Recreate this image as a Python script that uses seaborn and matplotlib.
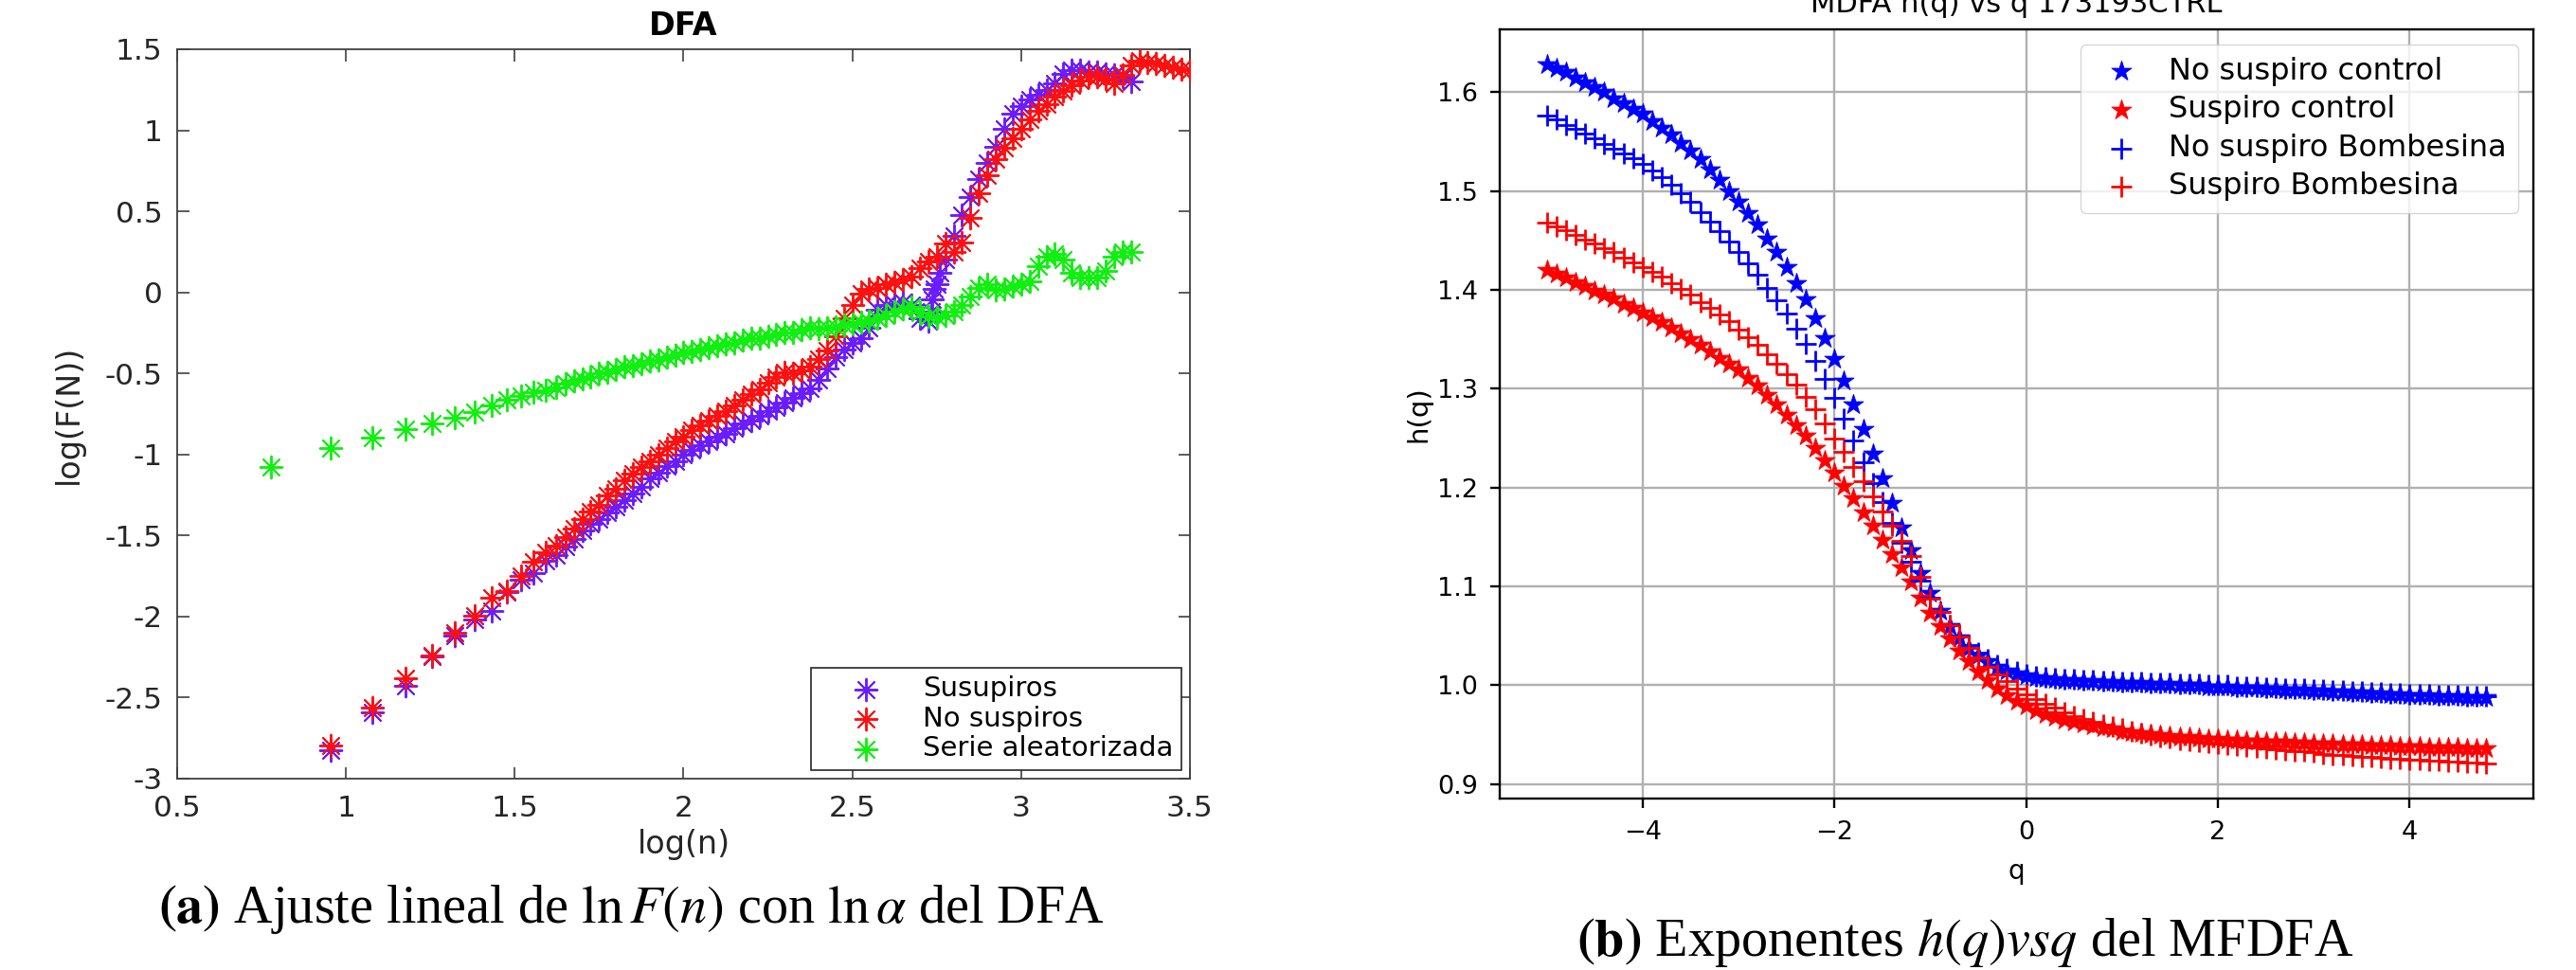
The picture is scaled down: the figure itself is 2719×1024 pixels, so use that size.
import numpy as np
import matplotlib
matplotlib.use("Agg")
import matplotlib.pyplot as plt
from matplotlib.ticker import FuncFormatter
import seaborn as sns

# ---------------- Panel (a): DFA ----------------
early_n = [9, 12, 15, 18, 21, 24, 27, 30, 33, 36, 39, 42]
green_early_n = [6, 9, 12, 15, 18, 21, 24, 27, 30, 33, 36, 39, 42]

susupiros_early = [-2.823, -2.589, -2.428, -2.245, -2.116, -2.018, -1.966, -1.849,
                   -1.771, -1.732, -1.654, -1.62]
nosuspiros_early = [-2.794, -2.564, -2.381, -2.242, -2.102, -1.995, -1.882, -1.843,
                    -1.751, -1.660, -1.605, -1.56]
aleatoria_early = [-1.08, -0.962, -0.894, -0.845, -0.807, -0.771, -0.738, -0.699,
                   -0.66, -0.641, -0.616, -0.602, -0.585]

# dense part, log(n) = 1.650, 1.675, ...
dense_start = 1.65
dense_step = 0.025

nosuspiros_dense = [
    -1.51, -1.46, -1.40, -1.35, -1.31, -1.25, -1.21, -1.16, -1.12, -1.08,
    -1.04, -1.00, -0.96, -0.92, -0.89, -0.85, -0.82, -0.79, -0.76, -0.73,
    -0.70, -0.66, -0.63, -0.60, -0.56, -0.52, -0.49, -0.50, -0.48, -0.46,
    -0.41, -0.36, -0.27, -0.16, -0.08, -0.01, 0.02, 0.03, 0.05, 0.06,
    0.08, 0.10, 0.15, 0.19, 0.22, 0.30, 0.25, 0.31, 0.46, 0.61,
    0.72, 0.82, 0.89, 0.95, 1.01, 1.07, 1.12, 1.16, 1.21, 1.24,
    1.28, 1.31, 1.33, 1.33, 1.32, 1.29, 1.34, 1.40, 1.43, 1.42,
    1.41, 1.40, 1.39, 1.38, 1.37]

susupiros_dense = [
    -1.57, -1.52, -1.47, -1.43, -1.40, -1.36, -1.32, -1.28, -1.24, -1.20,
    -1.15, -1.11, -1.07, -1.04, -1.00, -0.97, -0.94, -0.92, -0.89, -0.87,
    -0.84, -0.81, -0.79, -0.76, -0.73, -0.71, -0.68, -0.65, -0.62, -0.59,
    -0.54, -0.47, -0.40, -0.35, -0.31, -0.28, -0.22, -0.11, -0.08, -0.07,
    -0.06, -0.08, -0.16, -0.18, 0.05, 0.20, 0.35, 0.48, 0.59, 0.70,
    0.80, 0.90, 1.01, 1.10, 1.15, 1.19, 1.22, 1.25, 1.29, 1.35,
    1.37, 1.37, 1.36, 1.36, 1.35, 1.34, 1.33, 1.30]
susupiros_extra_logn = [2.733, 2.738, 2.743, 2.758]
susupiros_extra = [-0.12, -0.04, 0.02, 0.12]

aleatoria_dense = [
    -0.565, -0.545, -0.535, -0.525, -0.50, -0.49, -0.475, -0.46, -0.45, -0.44,
    -0.425, -0.415, -0.40, -0.385, -0.37, -0.365, -0.355, -0.34, -0.33, -0.315,
    -0.31, -0.295, -0.28, -0.28, -0.27, -0.26, -0.25, -0.245, -0.23, -0.22,
    -0.225, -0.22, -0.21, -0.20, -0.195, -0.185, -0.175, -0.16, -0.14, -0.12,
    -0.10, -0.09, -0.125, -0.15, -0.155, -0.14, -0.12, -0.08, -0.025, 0.03,
    0.05, 0.015, 0.02, 0.04, 0.05, 0.07, 0.16, 0.22, 0.235, 0.20,
    0.12, 0.09, 0.09, 0.09, 0.13, 0.22, 0.25, 0.25]

dfa_labels = ["Susupiros", "No suspiros", "Serie aleatorizada"]
dfa_colors = ["#6a1cff", "#ff1010", "#10f010"]

# ---------------- Panel (b): MFDFA ----------------
q_values = np.round(np.arange(-50, 49) / 10.0, 1)   # -5.0 ... 4.8

no_suspiro_control = [
    1.628, 1.624, 1.620, 1.615, 1.610, 1.605, 1.600, 1.594, 1.589, 1.583,
    1.578, 1.571, 1.564, 1.557, 1.549, 1.541, 1.532, 1.522, 1.511, 1.500,
    1.489, 1.478, 1.466, 1.452, 1.438, 1.423, 1.407, 1.390, 1.371, 1.351,
    1.330, 1.308, 1.284, 1.259, 1.234, 1.209, 1.184, 1.160, 1.137, 1.114,
    1.093, 1.075, 1.060, 1.048, 1.038, 1.030, 1.024, 1.019, 1.015, 1.012,
    1.010, 1.008, 1.007, 1.006, 1.005, 1.005, 1.004, 1.004, 1.003, 1.003,
    1.002, 1.002, 1.002, 1.001, 1.001, 1.001, 1.000, 1.000, 1.000, 0.999,
    0.999, 0.999, 0.998, 0.998, 0.998, 0.997, 0.997, 0.996, 0.996, 0.996,
    0.995, 0.995, 0.994, 0.994, 0.993, 0.993, 0.992, 0.992, 0.991, 0.991,
    0.990, 0.990, 0.990, 0.989, 0.989, 0.989, 0.988, 0.988, 0.988]

suspiro_control = [
    1.420, 1.416, 1.412, 1.408, 1.404, 1.399, 1.395, 1.391, 1.386, 1.382,
    1.377, 1.372, 1.367, 1.362, 1.356, 1.350, 1.344, 1.338, 1.331, 1.325,
    1.320, 1.311, 1.303, 1.294, 1.284, 1.274, 1.263, 1.252, 1.240, 1.228,
    1.215, 1.202, 1.189, 1.175, 1.161, 1.147, 1.133, 1.119, 1.105, 1.089,
    1.073, 1.060, 1.047, 1.035, 1.024, 1.014, 1.005, 0.997, 0.990, 0.984,
    0.979, 0.975, 0.971, 0.968, 0.965, 0.963, 0.961, 0.959, 0.957, 0.956,
    0.954, 0.953, 0.952, 0.951, 0.950, 0.949, 0.948, 0.948, 0.947, 0.946,
    0.946, 0.945, 0.945, 0.944, 0.944, 0.943, 0.943, 0.943, 0.942, 0.942,
    0.941, 0.941, 0.941, 0.940, 0.940, 0.940, 0.939, 0.939, 0.939, 0.938,
    0.938, 0.938, 0.937, 0.937, 0.937, 0.937, 0.936, 0.936, 0.936]

no_suspiro_bombesina = [
    1.576, 1.572, 1.567, 1.563, 1.558, 1.553, 1.548, 1.543, 1.538, 1.533,
    1.527, 1.521, 1.514, 1.506, 1.498, 1.489, 1.479, 1.469, 1.459, 1.449,
    1.438, 1.427, 1.415, 1.402, 1.389, 1.376, 1.361, 1.345, 1.328, 1.310,
    1.291, 1.270, 1.248, 1.226, 1.205, 1.185, 1.164, 1.144, 1.125, 1.106,
    1.089, 1.074, 1.061, 1.050, 1.041, 1.033, 1.026, 1.021, 1.017, 1.014,
    1.011, 1.009, 1.008, 1.007, 1.006, 1.006, 1.005, 1.005, 1.004, 1.004,
    1.003, 1.003, 1.003, 1.002, 1.002, 1.002, 1.001, 1.001, 1.001, 1.000,
    1.000, 1.000, 0.999, 0.999, 0.999, 0.998, 0.998, 0.997, 0.997, 0.997,
    0.996, 0.996, 0.995, 0.995, 0.994, 0.994, 0.993, 0.993, 0.992, 0.992,
    0.991, 0.991, 0.991, 0.990, 0.990, 0.990, 0.989, 0.989, 0.989]

suspiro_bombesina = [
    1.468, 1.464, 1.460, 1.456, 1.451, 1.447, 1.442, 1.438, 1.433, 1.428,
    1.423, 1.418, 1.413, 1.407, 1.401, 1.395, 1.388, 1.382, 1.375, 1.368,
    1.360, 1.352, 1.344, 1.335, 1.325, 1.315, 1.304, 1.292, 1.279, 1.265,
    1.250, 1.236, 1.221, 1.206, 1.191, 1.176, 1.161, 1.146, 1.131, 1.110,
    1.088, 1.074, 1.061, 1.049, 1.038, 1.028, 1.019, 1.011, 1.004, 0.997,
    0.991, 0.986, 0.981, 0.977, 0.973, 0.969, 0.966, 0.963, 0.960, 0.958,
    0.956, 0.954, 0.952, 0.950, 0.948, 0.947, 0.945, 0.944, 0.943, 0.942,
    0.941, 0.940, 0.939, 0.938, 0.937, 0.936, 0.935, 0.934, 0.933, 0.933,
    0.932, 0.931, 0.930, 0.930, 0.929, 0.928, 0.928, 0.927, 0.926, 0.926,
    0.925, 0.925, 0.924, 0.924, 0.923, 0.923, 0.922, 0.922, 0.921]

mf_labels = ["No suspiro control", "Suspiro control", "No suspiro Bombesina", "Suspiro Bombesina"]
mf_colors = ["#0000ff", "#ff0000", "#0000ff", "#ff0000"]

# ---------------- build ----------------
plt.rcParams['font.family'] = ['DejaVu Sans']
plt.rcParams['mathtext.fontset'] = 'stix'

fig = plt.figure(figsize=(27.19, 10.24), dpi=100)
fig.patch.set_facecolor('white')

# ---- panel a ----
ax1 = fig.add_axes([0.06877, 0.19727, 0.39316, 0.75195])
def dense_x(vals):
    return [round(dense_start + dense_step * k, 3) for k in range(len(vals))]

sus_x = list(np.log10(early_n)) + dense_x(susupiros_dense) + susupiros_extra_logn
sus_y = susupiros_early + susupiros_dense + susupiros_extra
nos_x = list(np.log10(early_n)) + dense_x(nosuspiros_dense)
nos_y = nosuspiros_early + nosuspiros_dense
ale_x = list(np.log10(green_early_n)) + dense_x(aleatoria_dense)
ale_y = aleatoria_early + aleatoria_dense

ast = (8, 2, 0)
for xs, ys, lab, col in zip([sus_x, nos_x, ale_x], [sus_y, nos_y, ale_y], dfa_labels, dfa_colors):
    sns.scatterplot(x=xs, y=ys, ax=ax1, marker=ast, s=17 ** 2, color=col,
                    linewidth=1.4, label=lab, legend=False, zorder=3)

ax1.set_xlim(0.5, 3.5)
ax1.set_ylim(-3, 1.5)
ax1.set_xticks(np.arange(0.5, 3.51, 0.5))
ax1.set_yticks(np.arange(-3, 1.51, 0.5))
fmt = FuncFormatter(lambda v, p: f"{v:g}")
ax1.xaxis.set_major_formatter(fmt)
ax1.yaxis.set_major_formatter(fmt)
ax1.tick_params(direction='in', top=True, right=True, length=9, width=1.2,
                color='#404040', labelcolor='#262626', labelsize=22.5)
ax1.tick_params(axis='x', pad=12)
ax1.tick_params(axis='y', pad=11)
for sp in ax1.spines.values():
    sp.set_color('#404040')
    sp.set_linewidth(1.3)
ax1.set_xlabel("log(n)", fontsize=24, color='#262626', labelpad=5)
ax1.set_ylabel("log(F(N))", fontsize=24, color='#262626', labelpad=16)
ax1.set_title("DFA", fontsize=24, fontweight='bold', pad=11)
leg1 = ax1.legend(loc='lower right', fontsize=21, frameon=True, fancybox=False,
                  edgecolor='#262626', framealpha=1, borderaxespad=0.3,
                  labelspacing=0.12, handlelength=3.4, handletextpad=0.35,
                  borderpad=0.3, scatterpoints=1)
leg1.get_frame().set_linewidth(1.2)

# ---- panel b ----
ax2 = fig.add_axes([0.58220, 0.17676, 0.40125, 0.79297])
ax2.set_axisbelow(True)
ax2.grid(True, color='#b0b0b0', linewidth=1.7)
mf_series = [no_suspiro_control, suspiro_control, no_suspiro_bombesina, suspiro_bombesina]
mf_markers = ['*', '*', '+', '+']
for ys, lab, col, mk in zip(mf_series, mf_labels, mf_colors, mf_markers):
    if mk == '*':
        sns.scatterplot(x=q_values, y=ys, ax=ax2, marker='*', s=16 ** 2, color=col,
                        edgecolor=col, linewidth=0.6, label=lab, legend=False, zorder=3)
    else:
        sns.scatterplot(x=q_values, y=ys, ax=ax2, marker='+', s=16 ** 2, color=col,
                        linewidth=2.0, label=lab, legend=False, zorder=3)
ax2.set_xlim(-5.49, 5.29)
ax2.set_ylim(0.8855, 1.6635)
ax2.set_xticks([-4, -2, 0, 2, 4])
ax2.set_yticks(np.round(np.arange(0.9, 1.61, 0.1), 1))
ax2.tick_params(direction='out', length=7.5, width=1.7, labelsize=19.5, pad=9)
for sp in ax2.spines.values():
    sp.set_color('black')
    sp.set_linewidth(1.7)
ax2.set_xlabel("q", fontsize=20, labelpad=10)
ax2.set_ylabel("h(q)", fontsize=21, labelpad=4)
ax2.set_title("MDFA h(q) vs q 173193CTRL", fontsize=22, pad=13)
leg2 = ax2.legend(loc='upper right', fontsize=23, frameon=True, fancybox=True,
                  framealpha=0.8, edgecolor='#cccccc', scatterpoints=1,
                  borderaxespad=0.5, labelspacing=0.3, handlelength=1.9,
                  handletextpad=0.6, borderpad=0.4)

# ---- captions ----
fig.text(667 / 2719, 1 - 960 / 1024,
         r"$\mathbf{(a)}$ Ajuste lineal de $\ln F(n)$ con $\ln \alpha$ del DFA",
         ha='center', va='center', fontsize=40.5, family='Liberation Serif')
fig.text(2074 / 2719, 1 - 995 / 1024,
         r"$\mathbf{(b)}$ Exponentes $h(q)vsq$ del MFDFA",
         ha='center', va='center', fontsize=40.5, family='Liberation Serif')

fig.savefig("out.png", dpi=100, facecolor='white')
